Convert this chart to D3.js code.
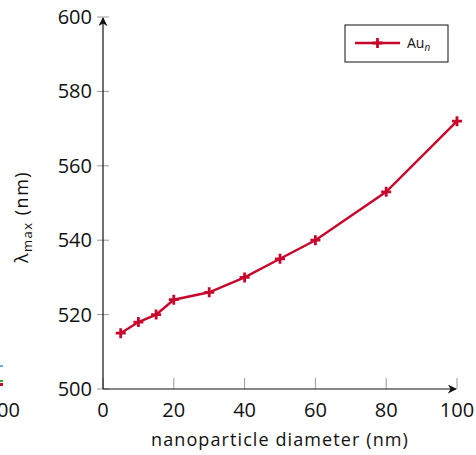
<!DOCTYPE html>
<html>
<head>
<meta charset="utf-8">
<script src="https://cdn.jsdelivr.net/npm/d3@7"></script>
<style>
  body { margin: 0; background: #fff; }
  text { font-family: "Open Sans", sans-serif; }
</style>
</head>
<body>
<div id="chart"></div>
<script>
// nanoparticle diameter (nm) vs lambda max (nm)
let diameters = [5, 10, 15, 20, 30, 40, 50, 60, 80, 100];
let lambdaMax = [515, 518, 520, 524, 526, 530, 535, 540, 553, 572];
let xTicks = [0, 20, 40, 60, 80, 100];
let yTicks = [500, 520, 540, 560, 580, 600];
let seriesName = "Au";

let width = 476, height = 455;
let margin = {top: 17, right: 19, bottom: 66, left: 103};
let red = "#c8062c";

let svg = d3.select("#chart").append("svg")
    .attr("width", width)
    .attr("height", height);

let x = d3.scaleLinear()
    .domain([0, 100])
    .range([margin.left, width - margin.right]);

let y = d3.scaleLinear()
    .domain([500, 600])
    .range([height - margin.bottom, margin.top]);

// arrow marker
svg.append("defs").append("marker")
    .attr("id", "arrow")
    .attr("viewBox", "0 0 10 10")
    .attr("refX", 9)
    .attr("refY", 5)
    .attr("markerWidth", 9)
    .attr("markerHeight", 9)
    .attr("markerUnits", "userSpaceOnUse")
    .attr("orient", "auto")
    .append("path")
    .attr("d", "M0,0 L10,5 L0,10 L3,5 Z")
    .attr("fill", "#111");

// ticks (inside, grey)
svg.selectAll(".xtick").data(xTicks).enter().append("line")
    .attr("x1", d => x(d)).attr("x2", d => x(d))
    .attr("y1", y(500)).attr("y2", y(500) - 11)
    .attr("stroke", "#999").attr("stroke-width", 1);

svg.selectAll(".ytick").data(yTicks).enter().append("line")
    .attr("x1", x(0) - 6).attr("x2", x(0) + 6)
    .attr("y1", d => y(d)).attr("y2", d => y(d))
    .attr("stroke", "#999").attr("stroke-width", 1);

// axis lines with arrows
svg.append("line")
    .attr("x1", x(0)).attr("y1", y(500))
    .attr("x2", x(100) - 1).attr("y2", y(500))
    .attr("stroke", "#111").attr("stroke-width", 1.2)
    .attr("marker-end", "url(#arrow)");

svg.append("line")
    .attr("x1", x(0)).attr("y1", y(500))
    .attr("x2", x(0)).attr("y2", y(600) + 1)
    .attr("stroke", "#111").attr("stroke-width", 1.2)
    .attr("marker-end", "url(#arrow)");

// tick labels
svg.selectAll(".xlabel").data(xTicks).enter().append("text")
    .attr("x", d => x(d))
    .attr("y", y(500) + 28)
    .attr("text-anchor", "middle")
    .attr("font-size", 20)
    .attr("fill", "#111")
    .text(d => d);

svg.selectAll(".ylabel").data(yTicks).enter().append("text")
    .attr("x", x(0) - 11)
    .attr("y", d => y(d) + 7)
    .attr("text-anchor", "end")
    .attr("font-size", 20)
    .attr("fill", "#111")
    .text(d => d);

// axis titles
svg.append("text")
    .attr("x", (x(0) + x(100)) / 2)
    .attr("y", 446)
    .attr("text-anchor", "middle")
    .attr("font-size", 18)
    .attr("letter-spacing", 1.1)
    .attr("fill", "#111")
    .text("nanoparticle diameter (nm)");

let yt = svg.append("text")
    .attr("transform", `translate(28, 217) rotate(-90)`)
    .attr("text-anchor", "middle")
    .attr("font-size", 18)
    .attr("letter-spacing", 1.5)
    .attr("fill", "#111");
yt.append("tspan").text("λ");
yt.append("tspan").attr("font-size", 13).attr("dy", 4).text("max");
yt.append("tspan").attr("dy", -4).text(" (nm)");

// data line
let data = diameters.map((d, i) => ({x: d, y: lambdaMax[i]}));

let line = d3.line()
    .x(d => x(d.x))
    .y(d => y(d.y));

svg.append("path")
    .datum(data)
    .attr("d", line)
    .attr("fill", "none")
    .attr("stroke", red)
    .attr("stroke-width", 2.4);

let plus = "M-5,0 H5 M0,-5 V5";
svg.selectAll(".pt").data(data).enter().append("path")
    .attr("transform", d => `translate(${x(d.x)},${y(d.y)})`)
    .attr("d", plus)
    .attr("stroke", red)
    .attr("stroke-width", 2.8)
    .attr("fill", "none");

// legend
let lg = svg.append("g").attr("transform", "translate(345, 25)");
lg.append("rect")
    .attr("width", 103).attr("height", 37)
    .attr("fill", "#fff").attr("stroke", "#111").attr("stroke-width", 1);
lg.append("line")
    .attr("x1", 10).attr("x2", 55).attr("y1", 18).attr("y2", 18)
    .attr("stroke", red).attr("stroke-width", 2.4);
lg.append("path")
    .attr("transform", "translate(32.5,18)")
    .attr("d", plus)
    .attr("stroke", red).attr("stroke-width", 2.8);
let lt = lg.append("text")
    .attr("x", 62).attr("y", 23)
    .attr("font-size", 14)
    .attr("fill", "#111");
lt.append("tspan").text(seriesName);
lt.append("tspan").attr("font-size", 10).attr("font-style", "italic").attr("dy", 3).text("n");

// cropped neighbour chart at the left edge
svg.append("text")
    .attr("x", 20).attr("y", y(500) + 28)
    .attr("text-anchor", "end")
    .attr("font-size", 20)
    .attr("fill", "#111")
    .text("100");
svg.append("rect").attr("x", 0).attr("y", 365).attr("width", 3).attr("height", 2).attr("fill", "#6fa8f0");
svg.append("rect").attr("x", 0).attr("y", 380).attr("width", 3).attr("height", 2).attr("fill", "#3a9a3a");
svg.append("rect").attr("x", 0).attr("y", 383).attr("width", 3).attr("height", 3).attr("fill", "#c8062c");
</script>
</body>
</html>
